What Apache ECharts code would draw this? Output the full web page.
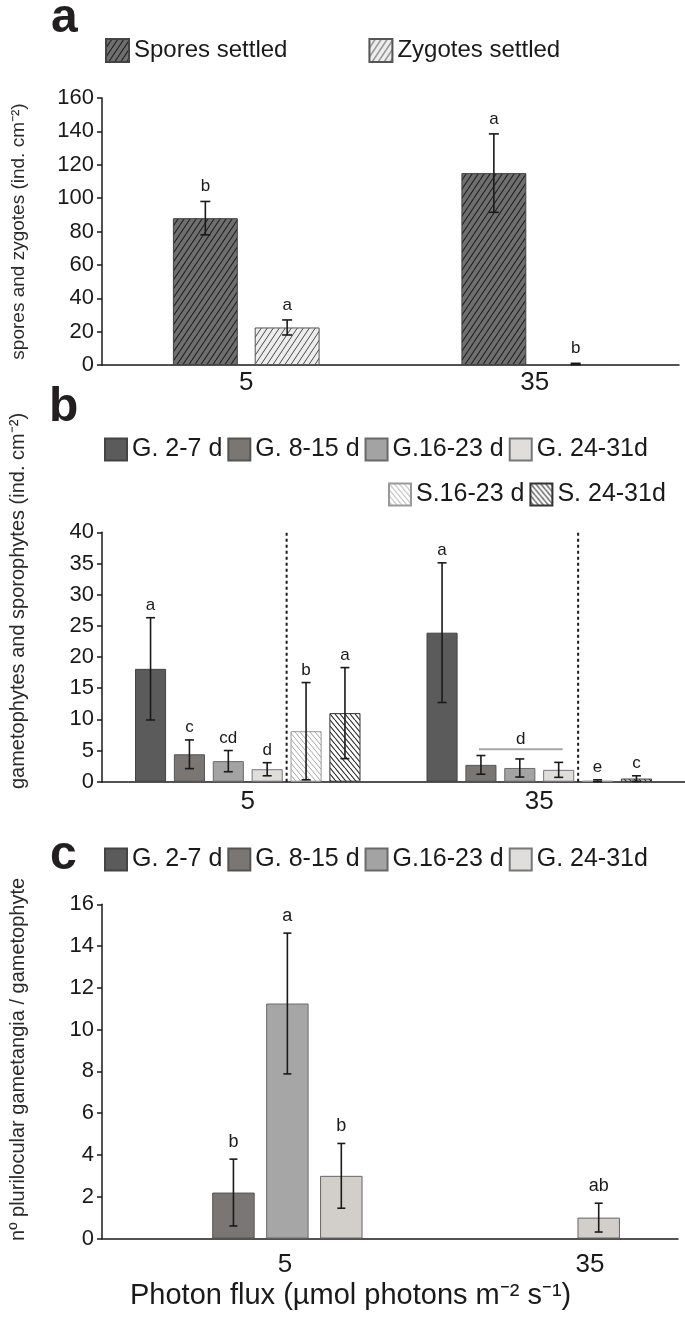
<!DOCTYPE html>
<html><head><meta charset="utf-8">
<script src="https://cdn.jsdelivr.net/npm/echarts@6/dist/echarts.min.js"></script>
<style>html,body{margin:0;padding:0;background:#fff}#c{width:685px;height:1324px}</style>
</head><body><div id="c"></div>
<script>
const FONT = 'Liberation Sans, Arial, Helvetica, sans-serif';
const photonFlux = ['5', '35'];

// ---- Panel a ----
const yTicksA = [0, 20, 40, 60, 80, 100, 120, 140, 160];
const sporesSettled = [88, 115];
const sporesSettledSE = [10, 23.5];
const sporesSettledLetters = ['b', 'a'];
const zygotesSettled = [22.5, 0.6];
const zygotesSettledSE = [4.5, 0.4];
const zygotesSettledLetters = ['a', 'b'];

// ---- Panel b ----
const yTicksB = [0, 5, 10, 15, 20, 25, 30, 35, 40];
const gNames = ['G. 2-7 d', 'G. 8-15 d', 'G.16-23 d', 'G. 24-31d'];
const sNames = ['S.16-23 d', 'S. 24-31d'];
const bG2_7 = [18.1, 23.9], bG2_7SE = [8.2, 11.2], bG2_7Let = ['a', 'a'];
const bG8_15 = [4.4, 2.7], bG8_15SE = [2.3, 1.5], bG8_15Let = ['c', ''];
const bG16_23 = [3.3, 2.2], bG16_23SE = [1.7, 1.45], bG16_23Let = ['cd', ''];
const bG24_31 = [2.0, 1.9], bG24_31SE = [1.05, 1.2], bG24_31Let = ['d', ''];
const bS16_23 = [8.1, 0.15], bS16_23SE = [7.8, 0.15], bS16_23Let = ['b', 'e'];
const bS24_31 = [11.0, 0.5], bS24_31SE = [7.3, 0.45], bS24_31Let = ['a', 'c'];
// shared letter over several bars: [category, first series, last series, height, letter]
const bSharedLetter = ['35', 'G. 8-15 d', 'G. 24-31d', 5.2, 'd'];

// ---- Panel c ----
const yTicksC = [0, 2, 4, 6, 8, 10, 12, 14, 16];
const cG2_7 = [null, null], cG2_7SE = [null, null], cG2_7Let = ['', ''];
const cG8_15 = [2.2, null], cG8_15SE = [1.6, null], cG8_15Let = ['b', ''];
const cG16_23 = [11.25, null], cG16_23SE = [3.37, null], cG16_23Let = ['a', ''];
const cG24_31 = [3.0, 1.0], cG24_31SE = [1.55, 0.69], cG24_31Let = ['b', 'ab'];

// ---- helpers ----
function hatch(bg, fg, dir, w, h, lw) {
  const c = document.createElement('canvas');
  c.width = w; c.height = h;
  const g = c.getContext('2d');
  g.fillStyle = bg; g.fillRect(0, 0, w, h);
  g.strokeStyle = fg; g.lineWidth = lw;
  g.beginPath();
  for (const dx of [-w, 0, w]) {
    if (dir === '/') { g.moveTo(dx, h); g.lineTo(dx + w, 0); }
    else { g.moveTo(dx, 0); g.lineTo(dx + w, h); }
  }
  g.stroke();
  return { image: c, repeat: 'repeat' };
}
const LA = { n: 2, barFrac: 0.225, gapFrac: 0.26 };
const LB = { n: 6, barFrac: 0.1067, gapFrac: 0.25 };
const LC = { n: 4, barFrac: 0.165, gapFrac: 0.27 };

function geom(api, cat, bar, L) {
  const c = api.coord([cat, 0])[0];
  const band = api.size([1, 0])[0];
  const w = band * L.barFrac, g = w * L.gapFrac;
  const gw = L.n * w + (L.n - 1) * g;
  return { x: c - gw / 2 + w / 2 + bar * (w + g), w, g };
}
const INK = '#1a1a1a';
function errorSeries(xi, yi, L, cols, o) {
  const rows = [];
  cols.forEach((col, b) => col.v.forEach((v, c) => {
    if (v != null) rows.push([c, v, b, col.se[c] || 0, col.l[c] || '']);
  }));
  return {
    type: 'custom', xAxisIndex: xi, yAxisIndex: yi, silent: true, z: 5,
    data: rows.map(r => r.slice(0, 4)), encode: { x: 0, y: 1 },
    renderItem(params, api) {
      const cat = api.value(0), val = api.value(1), bar = api.value(2), err = api.value(3);
      const letter = rows[params.dataIndex][4];
      const x = geom(api, cat, bar, L).x;
      const yT = api.coord([cat, val + err])[1];
      const yB = api.coord([cat, Math.max(0, val - err)])[1];
      const st = { stroke: INK, lineWidth: 1.6 };
      const ch = [];
      if (err > 0) {
        ch.push({ type: 'line', shape: { x1: x, y1: yT, x2: x, y2: yB }, style: st });
        ch.push({ type: 'line', shape: { x1: x - o.cap / 2, y1: yT, x2: x + o.cap / 2, y2: yT }, style: st });
        ch.push({ type: 'line', shape: { x1: x - o.cap / 2, y1: yB, x2: x + o.cap / 2, y2: yB }, style: st });
      }
      if (letter) ch.push({ type: 'text', style: { text: letter, x: x, y: yT - o.off, align: 'center', verticalAlign: 'bottom', fontSize: o.fs, fontFamily: FONT, fill: INK } });
      return { type: 'group', children: ch };
    }
  };
}
function yAxis(grid, ticks, name, pad, extra) {
  return Object.assign({
    gridIndex: grid, type: 'value', min: ticks[0], max: ticks[ticks.length - 1], interval: ticks[1] - ticks[0],
    splitLine: { show: false },
    axisLine: { show: true, lineStyle: { color: INK, width: 1.5 } },
    axisTick: { show: true, length: 5, inside: false, lineStyle: { color: INK, width: 1.5 } },
    axisLabel: { fontSize: 22, color: INK, fontFamily: FONT, margin: 8 },
    name: name, nameLocation: 'middle', nameGap: 74,
    nameTextStyle: { fontSize: 19, color: '#2a2a2a', fontFamily: FONT, padding: [0, 0, 0, pad] }
  }, extra || {});
}
function xAxis(grid, showLine, showLabel, margin) {
  return {
    gridIndex: grid, type: 'category', data: photonFlux,
    axisLine: { show: showLine, lineStyle: { color: INK, width: 1.5 } },
    axisTick: { show: false }, splitLine: { show: false },
    axisLabel: { show: showLabel, fontSize: 26, color: INK, fontFamily: FONT, margin: margin }
  };
}
function bar(name, xi, data, L, color, border) {
  return {
    type: 'bar', name: name, xAxisIndex: xi, yAxisIndex: xi, data: data, silent: true,
    barWidth: (L.barFrac * 100) + '%', barGap: (L.gapFrac * 100) + '%',
    itemStyle: { color: color, borderColor: border, borderWidth: 1 }
  };
}

const patSpores = hatch('#6f6f6f', '#222', '/', 6, 9, 1.1);
const patZyg = hatch('#ededed', '#4a4a4a', '/', 6, 9, 1);
const patS1 = hatch('#ffffff', '#a8a8a8', '\\', 5, 6, 1);
const patS2 = hatch('#ffffff', '#222', '\\', 5, 6, 1.1);
const gColB = ['#5b5b5b', '#7a7674', '#a3a3a3', '#dfdedb'];
const gColC = ['#5b5b5b', '#7a7674', '#a6a6a6', '#d2cfca'];

const chart = echarts.init(document.getElementById('c'), null, { renderer: 'canvas' });
const gIdx = n => gNames.indexOf(n);
const sharedCat = photonFlux.indexOf(bSharedLetter[0]);

const option = {
  animation: false,
  backgroundColor: '#fff',
  grid: [
    { left: 102, right: 6, top: 98, bottom: 959, outerBoundsMode: 'none' },
    { left: 102, right: 0, top: 532.3, bottom: 542.3, outerBoundsMode: 'none' },
    { left: 131.7, right: 38.5, top: 904.3, bottom: 85.5, outerBoundsMode: 'none' },
    { left: 102, right: 7, top: 904.3, bottom: 85.5, outerBoundsMode: 'none' },
    { left: 132.5, right: -57.5, top: 904.3, bottom: 85.5, outerBoundsMode: 'none' }
  ],
  xAxis: [
    xAxis(0, true, true, 4.5),
    xAxis(1, true, true, 7),
    xAxis(2, false, false, 0),
    xAxis(3, true, false, 0),
    xAxis(4, false, true, 13)
  ],
  yAxis: [
    yAxis(0, yTicksA, 'spores and zygotes (ind. cm⁻²)', 0),
    yAxis(1, yTicksB, 'gametophytes and sporophytes (ind. cm⁻²)', 112, { nameTextStyle: { fontSize: 20, color: '#2a2a2a', fontFamily: FONT, padding: [0, 0, 0, 112] } }),
    yAxis(2, yTicksC, 'nº plurilocular gametangia / gametophyte', 24, { offset: 29.7, nameTextStyle: { fontSize: 20, color: '#2a2a2a', fontFamily: FONT, padding: [0, 0, 0, 24] } }),
    { gridIndex: 3, type: 'value', show: false, min: 0, max: 16 },
    { gridIndex: 4, type: 'value', show: false, min: 0, max: 16 }
  ],
  legend: [
    { data: ['Spores settled', 'Zygotes settled'], left: 105, top: 38, padding: 0, itemWidth: 23, itemHeight: 23, itemGap: 81, icon: 'rect', selectedMode: false, textStyle: { fontSize: 24, color: INK, fontFamily: FONT } },
    { data: gNames, left: 104, top: 437, padding: 0, itemWidth: 22, itemHeight: 22, itemGap: 5, icon: 'rect', selectedMode: false, textStyle: { fontSize: 25, color: INK, fontFamily: FONT, width: 110 } },
    { data: sNames, left: 388, top: 482, padding: 0, itemWidth: 22, itemHeight: 22, itemGap: 5, icon: 'rect', selectedMode: false, textStyle: { fontSize: 25, color: INK, fontFamily: FONT, width: 110 } },
    { data: gNames, left: 104, top: 847, padding: 0, itemWidth: 22, itemHeight: 22, itemGap: 5, icon: 'rect', selectedMode: false, textStyle: { fontSize: 25, color: INK, fontFamily: FONT, width: 110 } }
  ],
  graphic: [
    { type: 'text', x: 51, y: 19, style: { text: 'a', font: 'bold 48px ' + FONT, fill: '#231f20', verticalAlign: 'middle' } },
    { type: 'text', x: 49, y: 408, style: { text: 'b', font: 'bold 48px ' + FONT, fill: '#231f20', verticalAlign: 'middle' } },
    { type: 'text', x: 50, y: 856, style: { text: 'c', font: 'bold 48px ' + FONT, fill: '#231f20', verticalAlign: 'middle' } },
    { type: 'text', x: 130, y: 1296, style: { text: 'Photon flux (µmol photons m⁻² s⁻¹)', font: '29px ' + FONT, fill: INK, verticalAlign: 'middle' } }
  ],
  series: [
    // panel a
    bar('Spores settled', 0, sporesSettled, LA, patSpores, '#444'),
    bar('Zygotes settled', 0, zygotesSettled, LA, patZyg, '#555'),
    errorSeries(0, 0, LA, [
      { v: sporesSettled, se: sporesSettledSE, l: sporesSettledLetters },
      { v: zygotesSettled, se: zygotesSettledSE, l: zygotesSettledLetters }
    ], { cap: 10, off: 6.5, fs: 17 }),
    // panel b
    bar(gNames[0], 1, bG2_7, LB, gColB[0], '#444'),
    bar(gNames[1], 1, bG8_15, LB, gColB[1], '#555'),
    bar(gNames[2], 1, bG16_23, LB, gColB[2], '#6a6a6a'),
    bar(gNames[3], 1, bG24_31, LB, gColB[3], '#777'),
    bar(sNames[0], 1, bS16_23, LB, patS1, '#999'),
    bar(sNames[1], 1, bS24_31, LB, patS2, '#333'),
    errorSeries(1, 1, LB, [
      { v: bG2_7, se: bG2_7SE, l: bG2_7Let },
      { v: bG8_15, se: bG8_15SE, l: bG8_15Let },
      { v: bG16_23, se: bG16_23SE, l: bG16_23Let },
      { v: bG24_31, se: bG24_31SE, l: bG24_31Let },
      { v: bS16_23, se: bS16_23SE, l: bS16_23Let },
      { v: bS24_31, se: bS24_31SE, l: bS24_31Let }
    ], { cap: 9, off: 4, fs: 17 }),
    { // dotted dividers between gametophytes and sporophytes
      type: 'custom', xAxisIndex: 1, yAxisIndex: 1, silent: true, z: 4,
      data: photonFlux.map((_, c) => [c, yTicksB[yTicksB.length - 1]]), encode: { x: 0, y: 1 },
      renderItem(params, api) {
        const c = api.value(0);
        const p = geom(api, c, gNames.length - 1, LB);
        const x = p.x + p.w / 2 + p.g / 2;
        return { type: 'line', shape: { x1: x, y1: api.coord([c, 0])[1], x2: x, y2: api.coord([c, api.value(1)])[1] },
          style: { stroke: INK, lineWidth: 2, lineDash: [3, 3] } };
      }
    },
    { // shared letter line
      type: 'custom', xAxisIndex: 1, yAxisIndex: 1, silent: true, z: 5,
      data: [[sharedCat, bSharedLetter[3], gIdx(bSharedLetter[1]), gIdx(bSharedLetter[2])]], encode: { x: 0, y: 1 },
      renderItem(params, api) {
        const c = api.value(0);
        const x0 = geom(api, c, api.value(2), LB).x - 2;
        const x1 = geom(api, c, api.value(3), LB).x + 4;
        const y = api.coord([c, api.value(1)])[1];
        return { type: 'group', children: [
          { type: 'line', shape: { x1: x0, y1: y, x2: x1, y2: y }, style: { stroke: '#a6a6a6', lineWidth: 2 } },
          { type: 'text', style: { text: bSharedLetter[4], x: (x0 + x1) / 2, y: y - 1, align: 'center', verticalAlign: 'bottom', fontSize: 17, fontFamily: FONT, fill: INK } }
        ] };
      }
    },
    // panel c
    bar(gNames[0], 2, cG2_7, LC, gColC[0], '#444'),
    bar(gNames[1], 2, cG8_15, LC, gColC[1], '#555'),
    bar(gNames[2], 2, cG16_23, LC, gColC[2], '#6a6a6a'),
    bar(gNames[3], 2, cG24_31, LC, gColC[3], '#666'),
    errorSeries(2, 2, LC, [
      { v: cG2_7, se: cG2_7SE, l: cG2_7Let },
      { v: cG8_15, se: cG8_15SE, l: cG8_15Let },
      { v: cG16_23, se: cG16_23SE, l: cG16_23Let },
      { v: cG24_31, se: cG24_31SE, l: cG24_31Let }
    ], { cap: 8, off: 8.5, fs: 18 })
  ]
};
chart.setOption(option);
</script></body></html>
